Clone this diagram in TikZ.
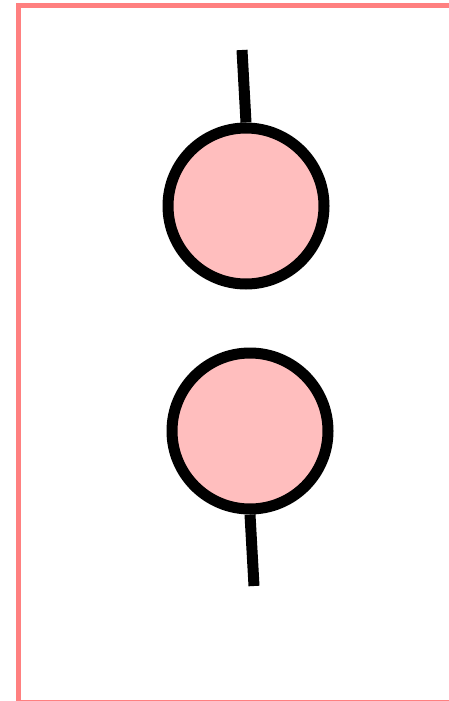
\documentclass[tikz,border=0pt]{standalone}
\usepackage{tikz}
\usetikzlibrary{positioning}
\definecolor{framered}{RGB}{255,128,128}
\definecolor{ballpink}{RGB}{255,190,190}

\begin{document}
\begin{tikzpicture}[x=1pt, y=-1pt,
    ball/.style={circle, draw=black, fill=ballpink, line width=11pt,
      minimum size=156pt, inner sep=0pt},
    stick/.style={line width=11pt}]
  \useasboundingbox (0,0) rectangle (448,701);
  % Frame
  \draw[framered, line width=5pt] (18,5.5) rectangle (455,702);
  % Balls
  \node[ball] (upper) at (246,206) {};
  \node[ball] (lower) at (250,431) {};
  % Sticks
  \coordinate (uppertip) at (242,50);
  \coordinate (lowertip) at (254,586);
  \draw[stick] (uppertip) -- (upper.north);
  \draw[stick] (lower.south) -- (lowertip);
\end{tikzpicture}
\end{document}
